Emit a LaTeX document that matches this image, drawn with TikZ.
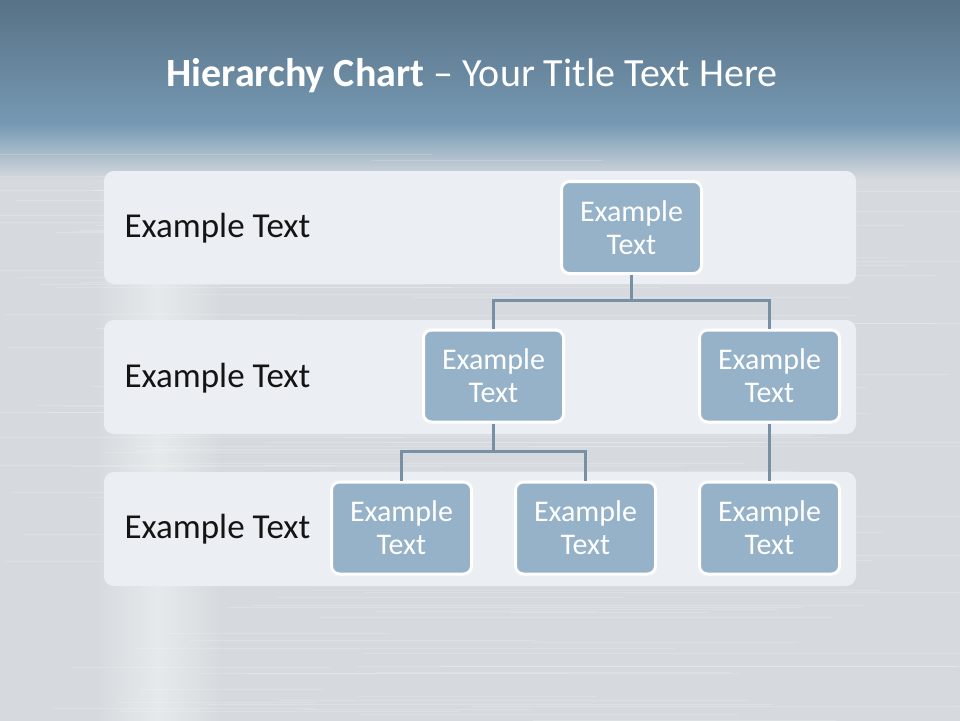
\documentclass[tikz,border=0pt]{standalone}
\usepackage{fontspec}
\setmainfont{Carlito}
\usepackage{xcolor}
\definecolor{skytop}{HTML}{567084}
\definecolor{skylow}{HTML}{7699B3}
\definecolor{silver}{HTML}{D6DADE}
\definecolor{silverhi}{HTML}{E6E9EC}
\definecolor{panel}{HTML}{EBEFF3}
\definecolor{unitfill}{HTML}{95B2C8}
\definecolor{linkcol}{HTML}{7790A4}
\usepackage{tikz}
\usetikzlibrary{calc}

\begin{document}
\begin{tikzpicture}[
  x=1pt, y=-1pt,
  unit/.style={
    rectangle, rounded corners=8pt, draw=white, fill=unitfill,
    line width=3pt, minimum width=140pt, minimum height=92pt,
    inner sep=0pt, align=center, text=white,
    font=\fontsize{30}{33}\selectfont
  },
  lead/.style={anchor=west, text=black!92, font=\fontsize{35}{40}\selectfont},
  band/.style={fill=panel, rounded corners=10pt},
  link/.style={draw=linkcol, line width=3pt}
]
  \useasboundingbox (0,0) rectangle (960,720);
  % backdrop
  \fill[silver] (-5,-5) rectangle (965,730);
  \shade[top color=skytop, bottom color=skylow] (-5,-5) rectangle (965,125);
  \shade[top color=skylow, bottom color=silver] (-5,124) rectangle (965,180);
  \shade[left color=silver, right color=silver, middle color=silverhi]
    (95,180) rectangle (220,730);
  \pgfmathsetseed{42}
  \foreach \i in {1,...,140}{
    \pgfmathsetmacro{\yy}{140+rnd*590}
    \pgfmathsetmacro{\xa}{-20+rnd*560}
    \pgfmathsetmacro{\xb}{\xa+150+rnd*500}
    \draw[white, opacity=0.18, line width=1pt] (\xa,\yy) -- (\xb,\yy);
  }
  % title
  \node[text=white, font=\fontsize{40}{44}\selectfont] (title) at (472,76)
    {\textbf{Hierarchy Chart} -- Your Title Text Here};
  % rows
  \fill[band] (104,171) rectangle (856,284);
  \fill[band] (104,320) rectangle (856,434);
  \fill[band] (104,472) rectangle (856,586);
  \node[lead] (lvl1) at (121,228) {Example Text};
  \node[lead] (lvl2) at (121,378) {Example Text};
  \node[lead] (lvl3) at (121,529) {Example Text};
  % chart
  \node[unit] (top)  at (631.5,227.5) {Example\\Text};
  \node[unit] (midL) at (493.5,376)   {Example\\Text};
  \node[unit] (midR) at (769.5,376)   {Example\\Text};
  \node[unit] (lowA) at (401.5,528)   {Example\\Text};
  \node[unit] (lowB) at (585.5,528)   {Example\\Text};
  \node[unit] (lowC) at (769.5,528)   {Example\\Text};
  \draw[link] (top.south) -- ++(0,25) -| (midL.north);
  \draw[link] (top.south) -- ++(0,25) -| (midR.north);
  \draw[link] (midL.south) -- ++(0,28) -| (lowA.north);
  \draw[link] (midL.south) -- ++(0,28) -| (lowB.north);
  \draw[link] (midR.south) -- (lowC.north);
\end{tikzpicture}
\end{document}
